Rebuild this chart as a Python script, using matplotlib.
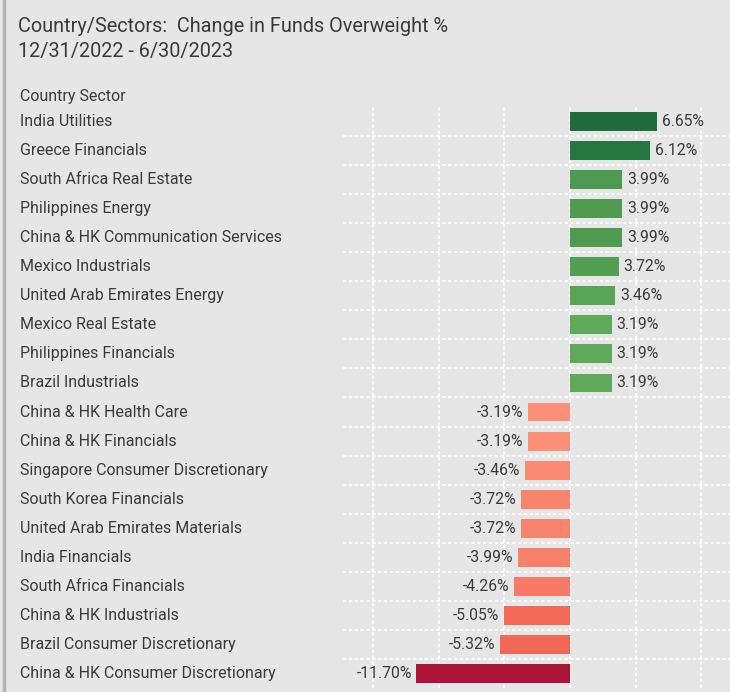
import numpy as np
import matplotlib.pyplot as plt
import matplotlib.transforms as mtransforms
from matplotlib.lines import Line2D

sectors = ['India Utilities', 'Greece Financials', 'South Africa Real Estate',
           'Philippines Energy', 'China & HK Communication Services',
           'Mexico Industrials', 'United Arab Emirates Energy', 'Mexico Real Estate',
           'Philippines Financials', 'Brazil Industrials', 'China & HK Health Care',
           'China & HK Financials', 'Singapore Consumer Discretionary',
           'South Korea Financials', 'United Arab Emirates Materials',
           'India Financials', 'South Africa Financials', 'China & HK Industrials',
           'Brazil Consumer Discretionary', 'China & HK Consumer Discretionary']
change = [6.65, 6.12, 3.99, 3.99, 3.99, 3.72, 3.46, 3.19, 3.19, 3.19,
          -3.19, -3.19, -3.46, -3.72, -3.72, -3.99, -4.26, -5.05, -5.32, -11.70]
colors = ['#226b3d', '#257640', '#4e9a51', '#4e9a51', '#4e9a51', '#529e53',
          '#58a356', '#5fa95a', '#5fa95a', '#5fa95a',
          '#fb8f77', '#fb8f77', '#fa8a72', '#f9846d', '#f9846d', '#f87f69',
          '#f67a65', '#f36b58', '#f26856', '#ad1339']

bg = '#e6e6e6'
txt = '#3a3a3a'
plt.rcParams['font.family'] = ['Roboto', 'DejaVu Sans']

W, H = 730, 692
fig = plt.figure(figsize=(W / 100, H / 100), dpi=100, facecolor=bg)
ax = fig.add_axes([343 / W, 1 - 688 / H, (730 - 343) / W, (688 - 107) / H])
ax.set_facecolor(bg)

y = np.arange(len(change))
ax.barh(y, change, height=0.65, color=colors, zorder=3)
for yi, v in zip(y, change):
    if v >= 0:
        ax.text(v + 0.35, yi, f'{v:.2f}%', va='center', ha='left', fontsize=11.3, color=txt)
    else:
        ax.text(v - 0.35, yi, f'{v:.2f}%', va='center', ha='right', fontsize=11.3, color=txt)

ax.set_xlim(-17.3, 12.2)
ax.set_ylim(len(change) - 0.5, -0.5)
ax.set_xticks([-15, -10, -5, 0, 5, 10])
ax.set_yticks([])
ax.set_yticks(y[:-1] + 0.5, minor=True)
ax.tick_params(which='both', length=0, labelbottom=False, labelleft=False)
ax.grid(axis='x', which='major', color='white', linestyle=(0, (2, 1.5)), lw=1.2, zorder=1)
ax.grid(axis='y', which='minor', color='white', linestyle=(0, (2, 1.5)), lw=1.2, zorder=1)
for s in ax.spines.values():
    s.set_visible(False)

# row labels on the left, tied to the bar rows
trans = mtransforms.blended_transform_factory(fig.transFigure, ax.transData)
for yi, name in zip(y, sectors):
    ax.text(20 / W, yi, name, transform=trans, ha='left', va='center',
            fontsize=11.5, color=txt, clip_on=False)
ax.text(20 / W, -0.85, 'Country Sector', transform=trans, ha='left', va='center',
        fontsize=11.5, color=txt, clip_on=False)

fig.text(18 / W, 1 - 26 / H, 'Country/Sectors:  Change in Funds Overweight %',
         ha='left', va='center', fontsize=14.3, color=txt)
fig.text(18 / W, 1 - 52 / H, '12/31/2022 - 6/30/2023',
         ha='left', va='center', fontsize=14.3, color=txt)

fig.add_artist(Line2D([4 / W, 4 / W], [0, 1], transform=fig.transFigure,
                      color='#b5b5b5', lw=2.5))

fig.savefig('out.png', dpi=100, facecolor=bg)
